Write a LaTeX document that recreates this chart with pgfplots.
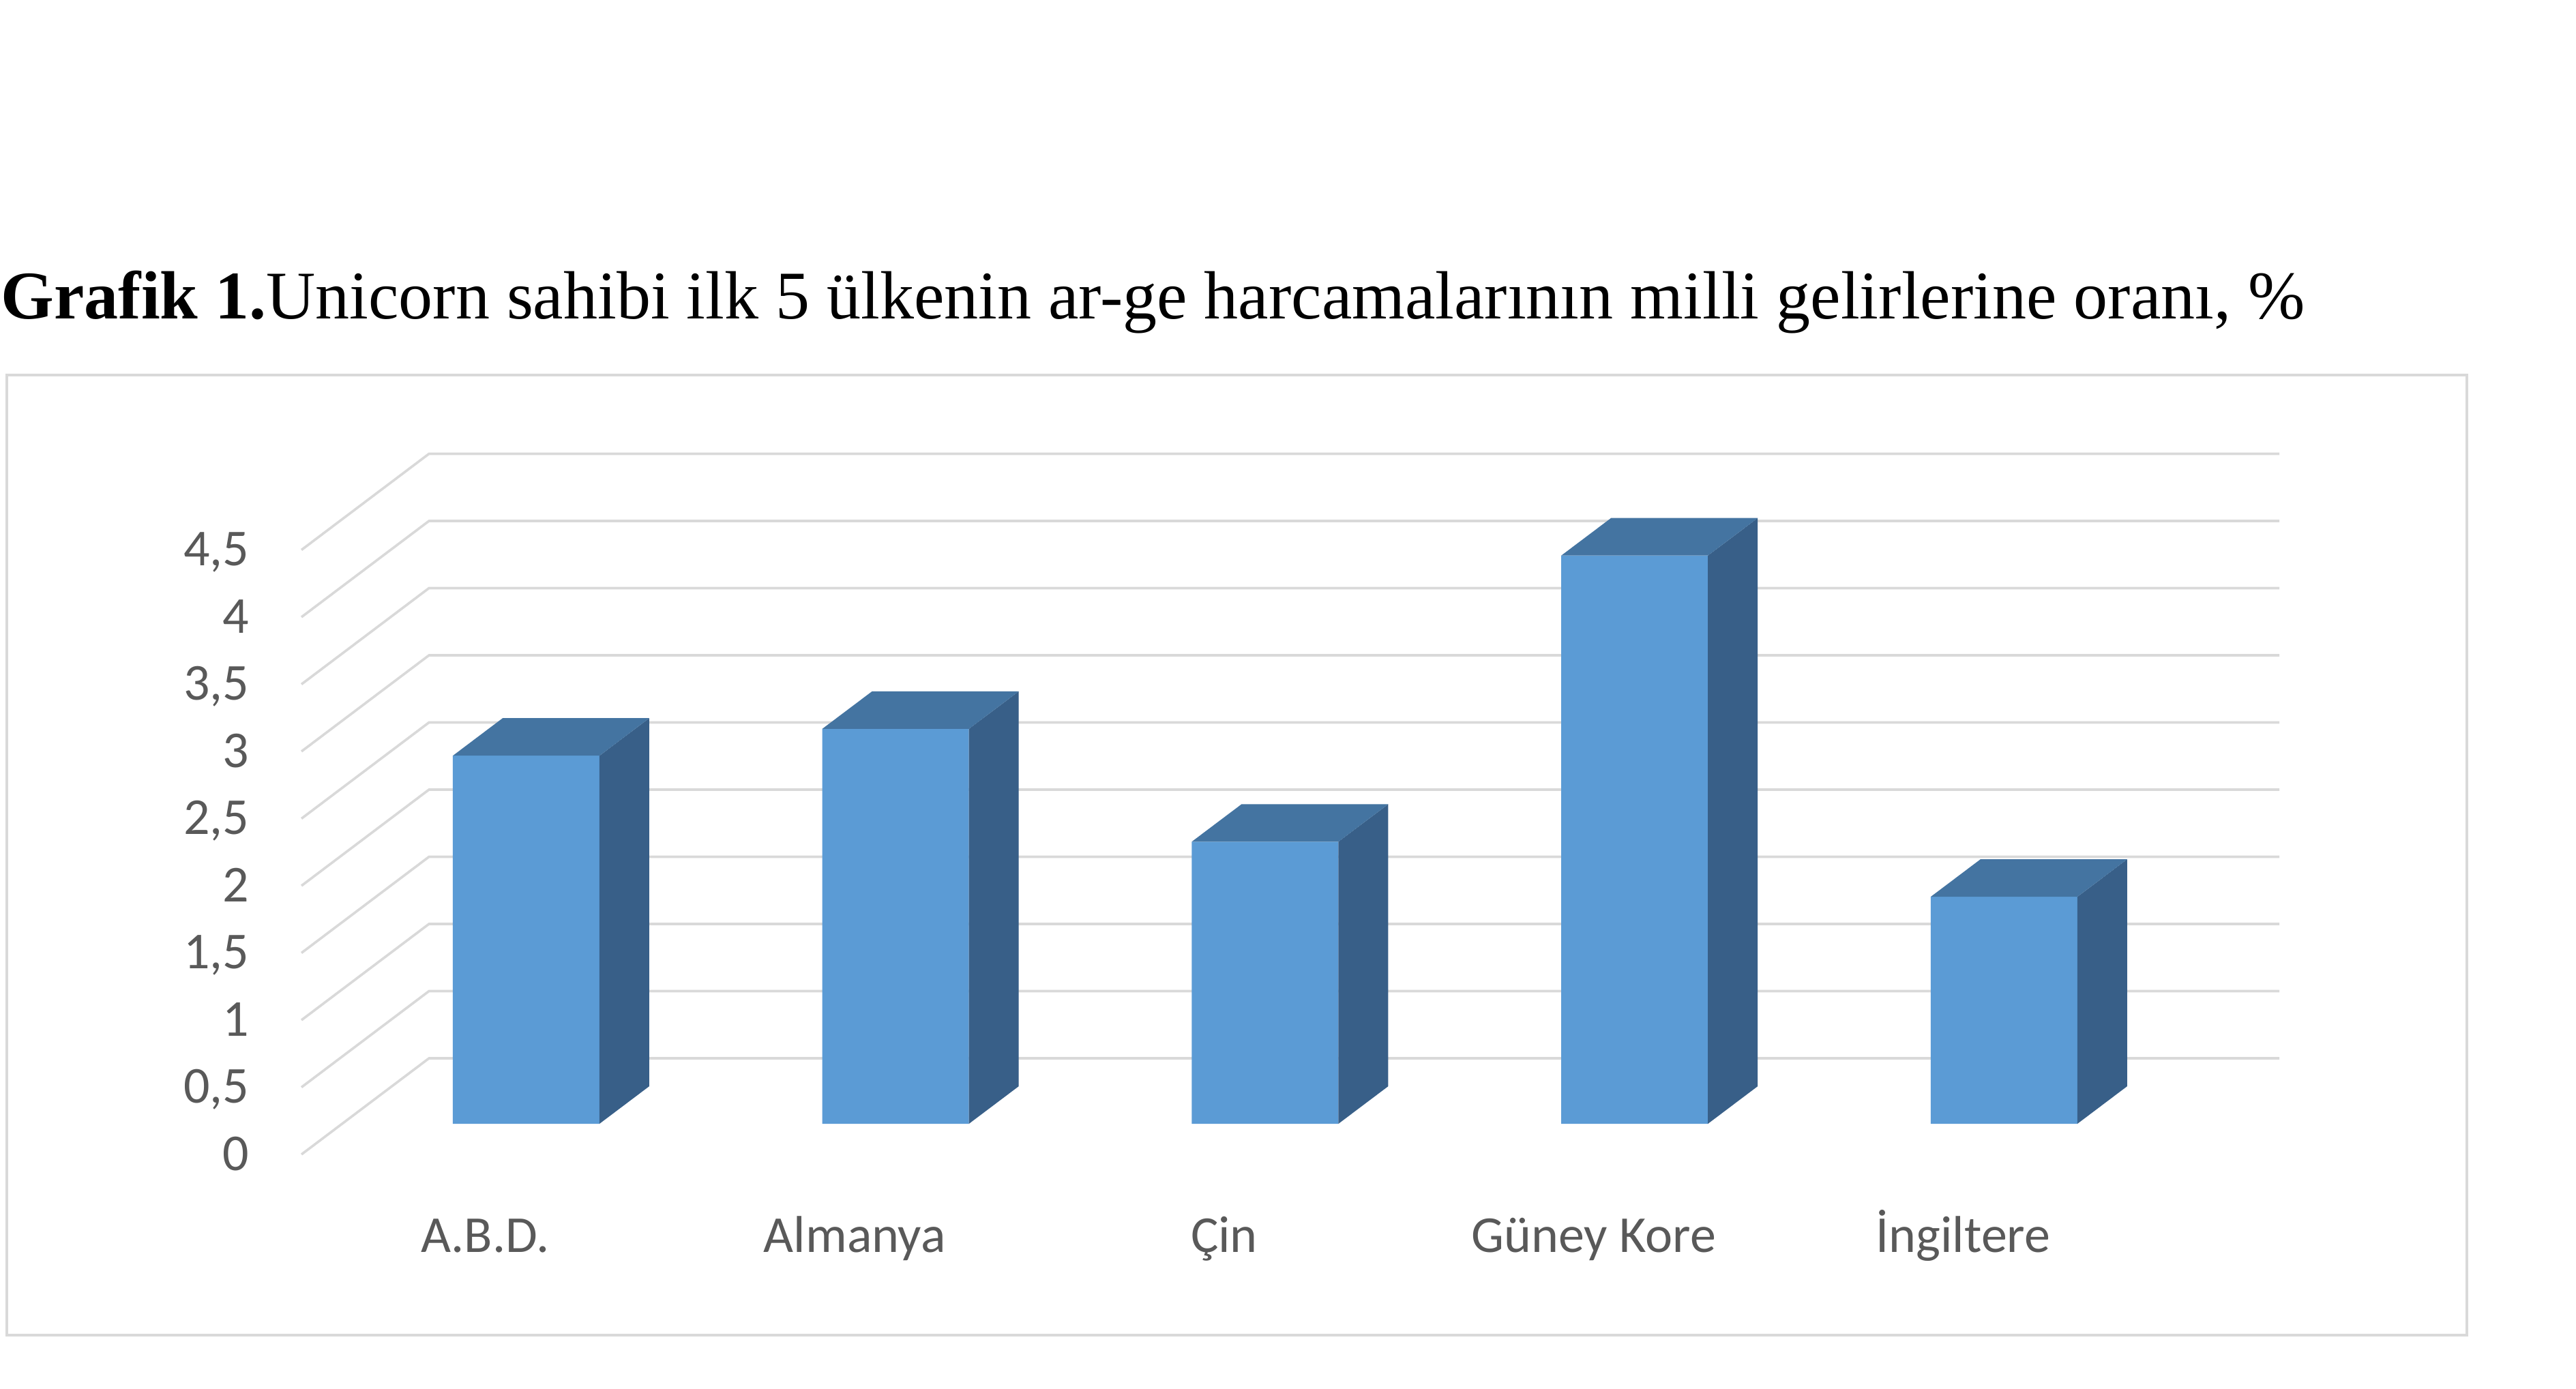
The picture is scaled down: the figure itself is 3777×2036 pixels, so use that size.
\documentclass[border=0pt]{standalone}
\usepackage{fontspec}
\setmainfont{Liberation Serif}
\newfontfamily\carlito{Carlito}
\usepackage{pgfplots}
\usepackage{pgfplotstable}
\pgfplotsset{compat=1.18}
\definecolor{frontblue}{HTML}{5B9BD5}
\definecolor{topblue}{HTML}{4474A1}
\definecolor{sideblue}{HTML}{385F88}
\definecolor{gridgray}{HTML}{D9D9D9}
\definecolor{tickgray}{HTML}{595959}

% 3D cap of each column: side and top face, drawn at the top centre of the front face
\pgfdeclareplotmark{prism}{%
  \pgfmathsetlengthmacro\barh{\barv*24.625pt}%
  \pgfsetfillcolor{sideblue}%
  \pgfpathmoveto{\pgfpoint{13.4375pt}{0pt}}%
  \pgfpathlineto{\pgfpoint{22.5625pt}{6.875pt}}%
  \pgfpathlineto{\pgfpoint{22.5625pt}{6.875pt-\barh}}%
  \pgfpathlineto{\pgfpoint{13.4375pt}{-\barh}}%
  \pgfpathclose\pgfusepath{fill}%
  \pgfsetfillcolor{topblue}%
  \pgfpathmoveto{\pgfpoint{-13.4375pt}{0pt}}%
  \pgfpathlineto{\pgfpoint{-4.3125pt}{6.875pt}}%
  \pgfpathlineto{\pgfpoint{22.5625pt}{6.875pt}}%
  \pgfpathlineto{\pgfpoint{13.4375pt}{0pt}}%
  \pgfpathclose\pgfusepath{fill}%
}

\pgfplotstableread{
x v
0 2.74
1 2.94
2 2.10
3 4.23
4 1.69
}\rdata

\begin{document}
\begin{tikzpicture}[x=0.125pt,y=0.125pt]
\useasboundingbox (0,0) rectangle (3777,2036);
% title
\node[anchor=base west,inner sep=0pt,font=\fontsize{12.5}{14}\selectfont] at (0,1568)
  {\textbf{Grafik 1.}Unicorn sahibi ilk 5 ülkenin ar-ge harcamalarının milli gelirlerine oranı, \%};
% chart frame
\draw[gridgray,line width=0.6pt] (10,78) rectangle (3617,1486);
% side wall and back wall gridlines
\foreach \v in {0,0.5,...,4.5}{
  \draw[gridgray,line width=0.45pt] (442,{343+197*\v}) -- (629,{484+197*\v}) -- (3342,{484+197*\v});
}
\coordinate (axorigin) at (500.625,388);
\begin{axis}[at={(axorigin)},anchor=south west,scale only axis,
  width=338.59pt,height=110.8125pt,
  xmin=-0.5,xmax=4.5,ymin=0,ymax=4.5,enlargelimits=false,clip=false,
  axis lines*=left,axis line style={draw=none},tick style={draw=none},major tick length=0pt,
  xtick={0,...,4},xticklabels={A.B.D.,Almanya,Çin,Güney Kore,İngiltere},
  ytick={0,0.5,...,4.5},
  /pgf/number format/use comma,/pgf/number format/assume math mode=true,
  ticklabel style={font=\carlito\fontsize{9.5}{11}\selectfont,text=tickgray,inner sep=0pt},
  xticklabel style={anchor=base,yshift=-23.5pt,xshift=-7.5pt},
  yticklabel style={anchor=base east,yshift=-8.56pt,xshift=-16.7pt}]
\addplot[ybar,bar width=26.875pt,fill=frontblue,draw=none] table[x=x,y=v]{\rdata};
\addplot[only marks,mark=prism,visualization depends on={y \as \barv}] table[x=x,y=v]{\rdata};
\end{axis}
\end{tikzpicture}
\end{document}
